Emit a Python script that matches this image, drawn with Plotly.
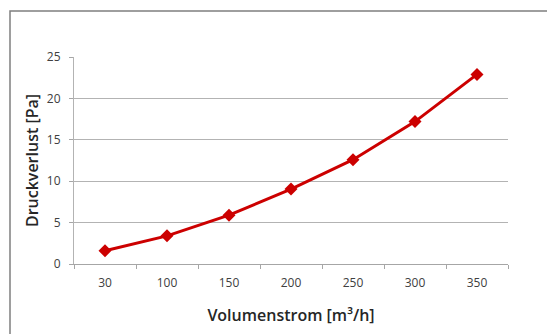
import plotly.graph_objects as go

categories = ["30", "100", "150", "200", "250", "300", "350"]
druckverlust = [1.6, 3.4, 5.9, 9.05, 12.6, 17.2, 22.9]
y_ticks = [0, 5, 10, 15, 20, 25]

# the page has an 8px body margin, so compensate
OFF = 8
W, H = 555, 334
ml, mt = 74 - OFF, 57 - OFF
pw, ph = 434, 207
mr, mb = W - ml - pw, H - mt - ph

FONT = "Open Sans"

fig = go.Figure()
fig.add_trace(go.Scatter(
    x=categories, y=druckverlust, mode="lines+markers",
    line=dict(color="#cc0000", width=3),
    marker=dict(symbol="diamond", size=10, color="#cc0000"),
    showlegend=False, cliponaxis=False,
))

fig.update_layout(
    width=W, height=H,
    margin=dict(l=ml, r=mr, t=mt, b=mb, autoexpand=False),
    paper_bgcolor="white", plot_bgcolor="white",
    font=dict(family=FONT, color="#404040"),
    xaxis=dict(
        type="category", range=[-0.5, 6.5],
        showgrid=False, showline=True, linecolor="#a6a6a6", linewidth=1,
        ticks="outside", ticklen=4, tickcolor="#a6a6a6", tickson="boundaries",
        ticklabelstandoff=8,
        tickfont=dict(size=12, color="#404040", weight=500),
        title=dict(text="Volumenstrom [m³/h]", font=dict(size=16, color="#262626", weight=600), standoff=19),
    ),
    yaxis=dict(
        range=[0, 25], tickvals=y_ticks,
        showgrid=True, gridcolor="#b3b3b3", gridwidth=1,
        showline=True, linecolor="#b3b3b3", linewidth=1,
        ticks="outside", ticklen=4, tickcolor="#a6a6a6",
        ticklabelstandoff=6,
        zeroline=False,
        tickfont=dict(size=12, color="#404040", weight=500),
        title=dict(text="Druckverlust [Pa]", font=dict(size=16, color="#262626", weight=600), standoff=4),
    ),
    shapes=[dict(
        type="rect", xref="paper", yref="paper", layer="above",
        x0=(10 - OFF - ml) / pw, x1=(W + 20 - ml) / pw,
        y0=-(mb + 20) / ph, y1=(H - mb - (11 - OFF)) / ph,
        line=dict(color="#7f7f7f", width=1.5), fillcolor="rgba(0,0,0,0)",
    )],
)

fig.write_html("out.html")
